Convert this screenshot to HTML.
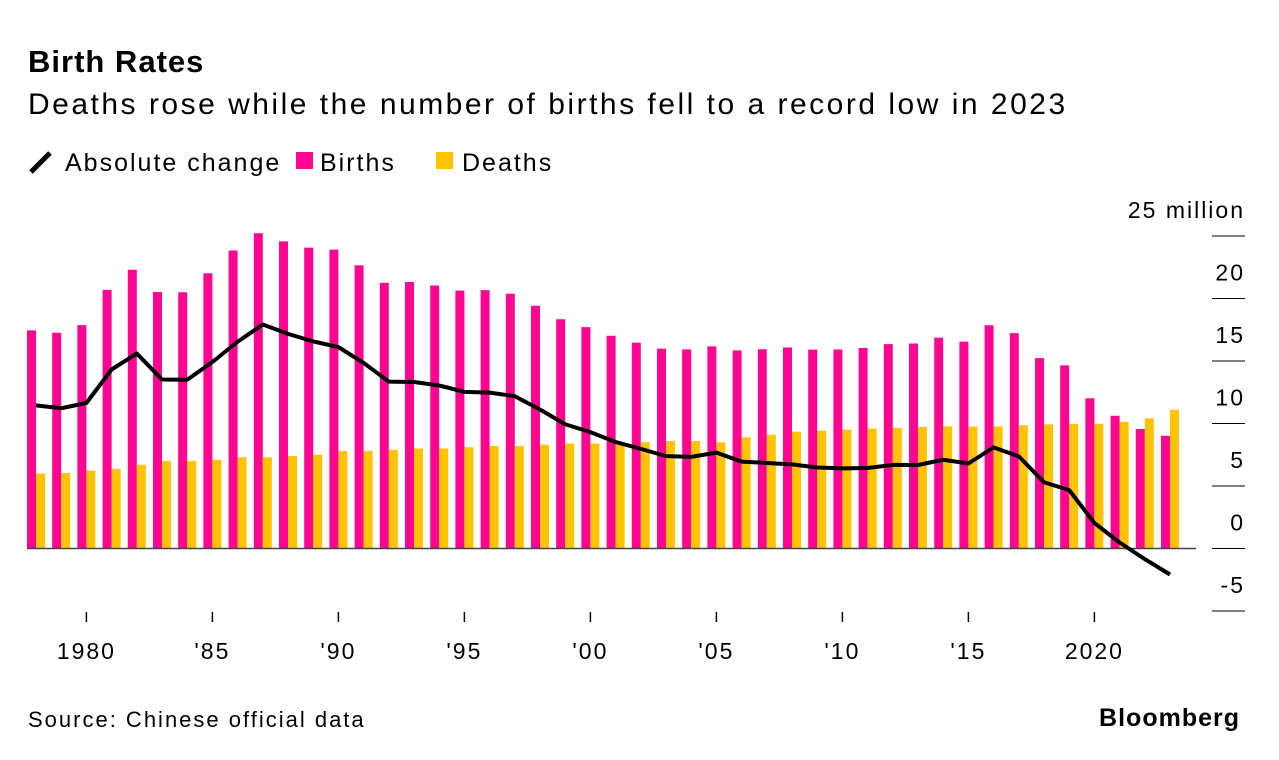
<!DOCTYPE html>
<html><head><meta charset="utf-8"><style>
body{margin:0;background:#fff;width:1279px;height:760px;overflow:hidden;font-family:"Liberation Sans",sans-serif;color:#000}
</style></head><body>
<svg width="1279" height="760" style="position:absolute;left:0;top:0">
<text x="28" y="72" font-size="31" font-weight="bold" letter-spacing="1">Birth Rates</text>
<text x="28" y="114" font-size="30" letter-spacing="2.5">Deaths rose while the number of births fell to a record low in 2023</text>
<g>
<line x1="31" y1="172" x2="50" y2="153" stroke="#000" stroke-width="5"/>
<text x="65" y="171" font-size="25" letter-spacing="2">Absolute change</text>
<rect x="296" y="152" width="17" height="17" fill="#ff0590"/>
<text x="320" y="171" font-size="25" letter-spacing="2">Births</text>
<rect x="436" y="152" width="17" height="17" fill="#ffc300"/>
<text x="462" y="171" font-size="25" letter-spacing="2">Deaths</text>
</g>
<g id="plot"></g>
<text x="28" y="727" font-size="22" letter-spacing="2">Source: Chinese official data</text>
<text x="1240" y="726" font-size="25" font-weight="bold" letter-spacing="1" text-anchor="end">Bloomberg</text>
</svg>
<script>
const years=[1978,1979,1980,1981,1982,1983,1984,1985,1986,1987,1988,1989,1990,1991,1992,1993,1994,1995,1996,1997,1998,1999,2000,2001,2002,2003,2004,2005,2006,2007,2008,2009,2010,2011,2012,2013,2014,2015,2016,2017,2018,2019,2020,2021,2022,2023];
const births=[17.45,17.26,17.87,20.69,22.30,20.52,20.50,22.02,23.84,25.22,24.57,24.07,23.91,22.65,21.25,21.32,21.04,20.63,20.67,20.38,19.42,18.34,17.71,17.02,16.47,15.99,15.93,16.17,15.85,15.94,16.08,15.91,15.92,16.04,16.35,16.40,16.87,16.55,17.86,17.23,15.23,14.65,12.02,10.62,9.56,9.02];
const deaths=[6.0,6.04,6.23,6.37,6.7,7.0,7.0,7.1,7.3,7.3,7.4,7.5,7.8,7.8,7.9,8.0,8.0,8.1,8.2,8.2,8.3,8.4,8.4,8.5,8.5,8.6,8.6,8.5,8.9,9.1,9.35,9.43,9.51,9.6,9.66,9.72,9.77,9.75,9.77,9.86,9.93,9.98,9.98,10.14,10.41,11.10];
const yTicks=[25,20,15,10,5,0,-5];
const xTicks=[1980,1985,1990,1995,2000,2005,2010,2015,2020];
const xLabels=["1980","'85","'90","'95","'00","'05","'10","'15","2020"];
const NS="http://www.w3.org/2000/svg";
const g=document.getElementById('plot');
const X=y=>36+(y-1978)*25.2;
const Y=v=>548.5-v*12.5;
function mk(t,a){const e=document.createElementNS(NS,t);for(const k in a)e.setAttribute(k,a[k]);g.appendChild(e);return e;}
yTicks.forEach(t=>{
 const l=mk('line',{x1:1212,x2:1245,y1:Y(t),y2:Y(t),stroke:'#000','stroke-width':1});
 
 
 const tx=mk('text',{x:1245,y:Y(t)-18,'font-size':23,'letter-spacing':2,'text-anchor':'end'});
 tx.textContent=(t===25?'25 million':String(t));
 
 
});
years.forEach((yr,i)=>{
 const b=mk('rect',{x:X(yr)-9,y:Y(births[i]),width:9,height:births[i]*12.5,fill:'#ff0590'});
 
 
 const d=mk('rect',{x:X(yr),y:Y(deaths[i]),width:9,height:deaths[i]*12.5,fill:'#ffc300'});
 
 
});
const z=mk('line',{x1:27,x2:1196,y1:Y(0),y2:Y(0),stroke:'#444','stroke-width':1.5});


const pts=years.map((yr,i)=>X(yr)+','+Y(births[i]-deaths[i])).join(' ');
const pl=mk('polyline',{points:pts,fill:'none',stroke:'#000','stroke-width':4,'stroke-linejoin':'round'});


xTicks.forEach((t,i)=>{
 const l=mk('line',{x1:X(t),x2:X(t),y1:612,y2:622,stroke:'#000','stroke-width':1.5});
 
 
 const tx=mk('text',{x:X(t),y:659,'font-size':23,'letter-spacing':2,'text-anchor':'middle'});
 tx.textContent=xLabels[i];
 
 
});
</script>
</body></html>
